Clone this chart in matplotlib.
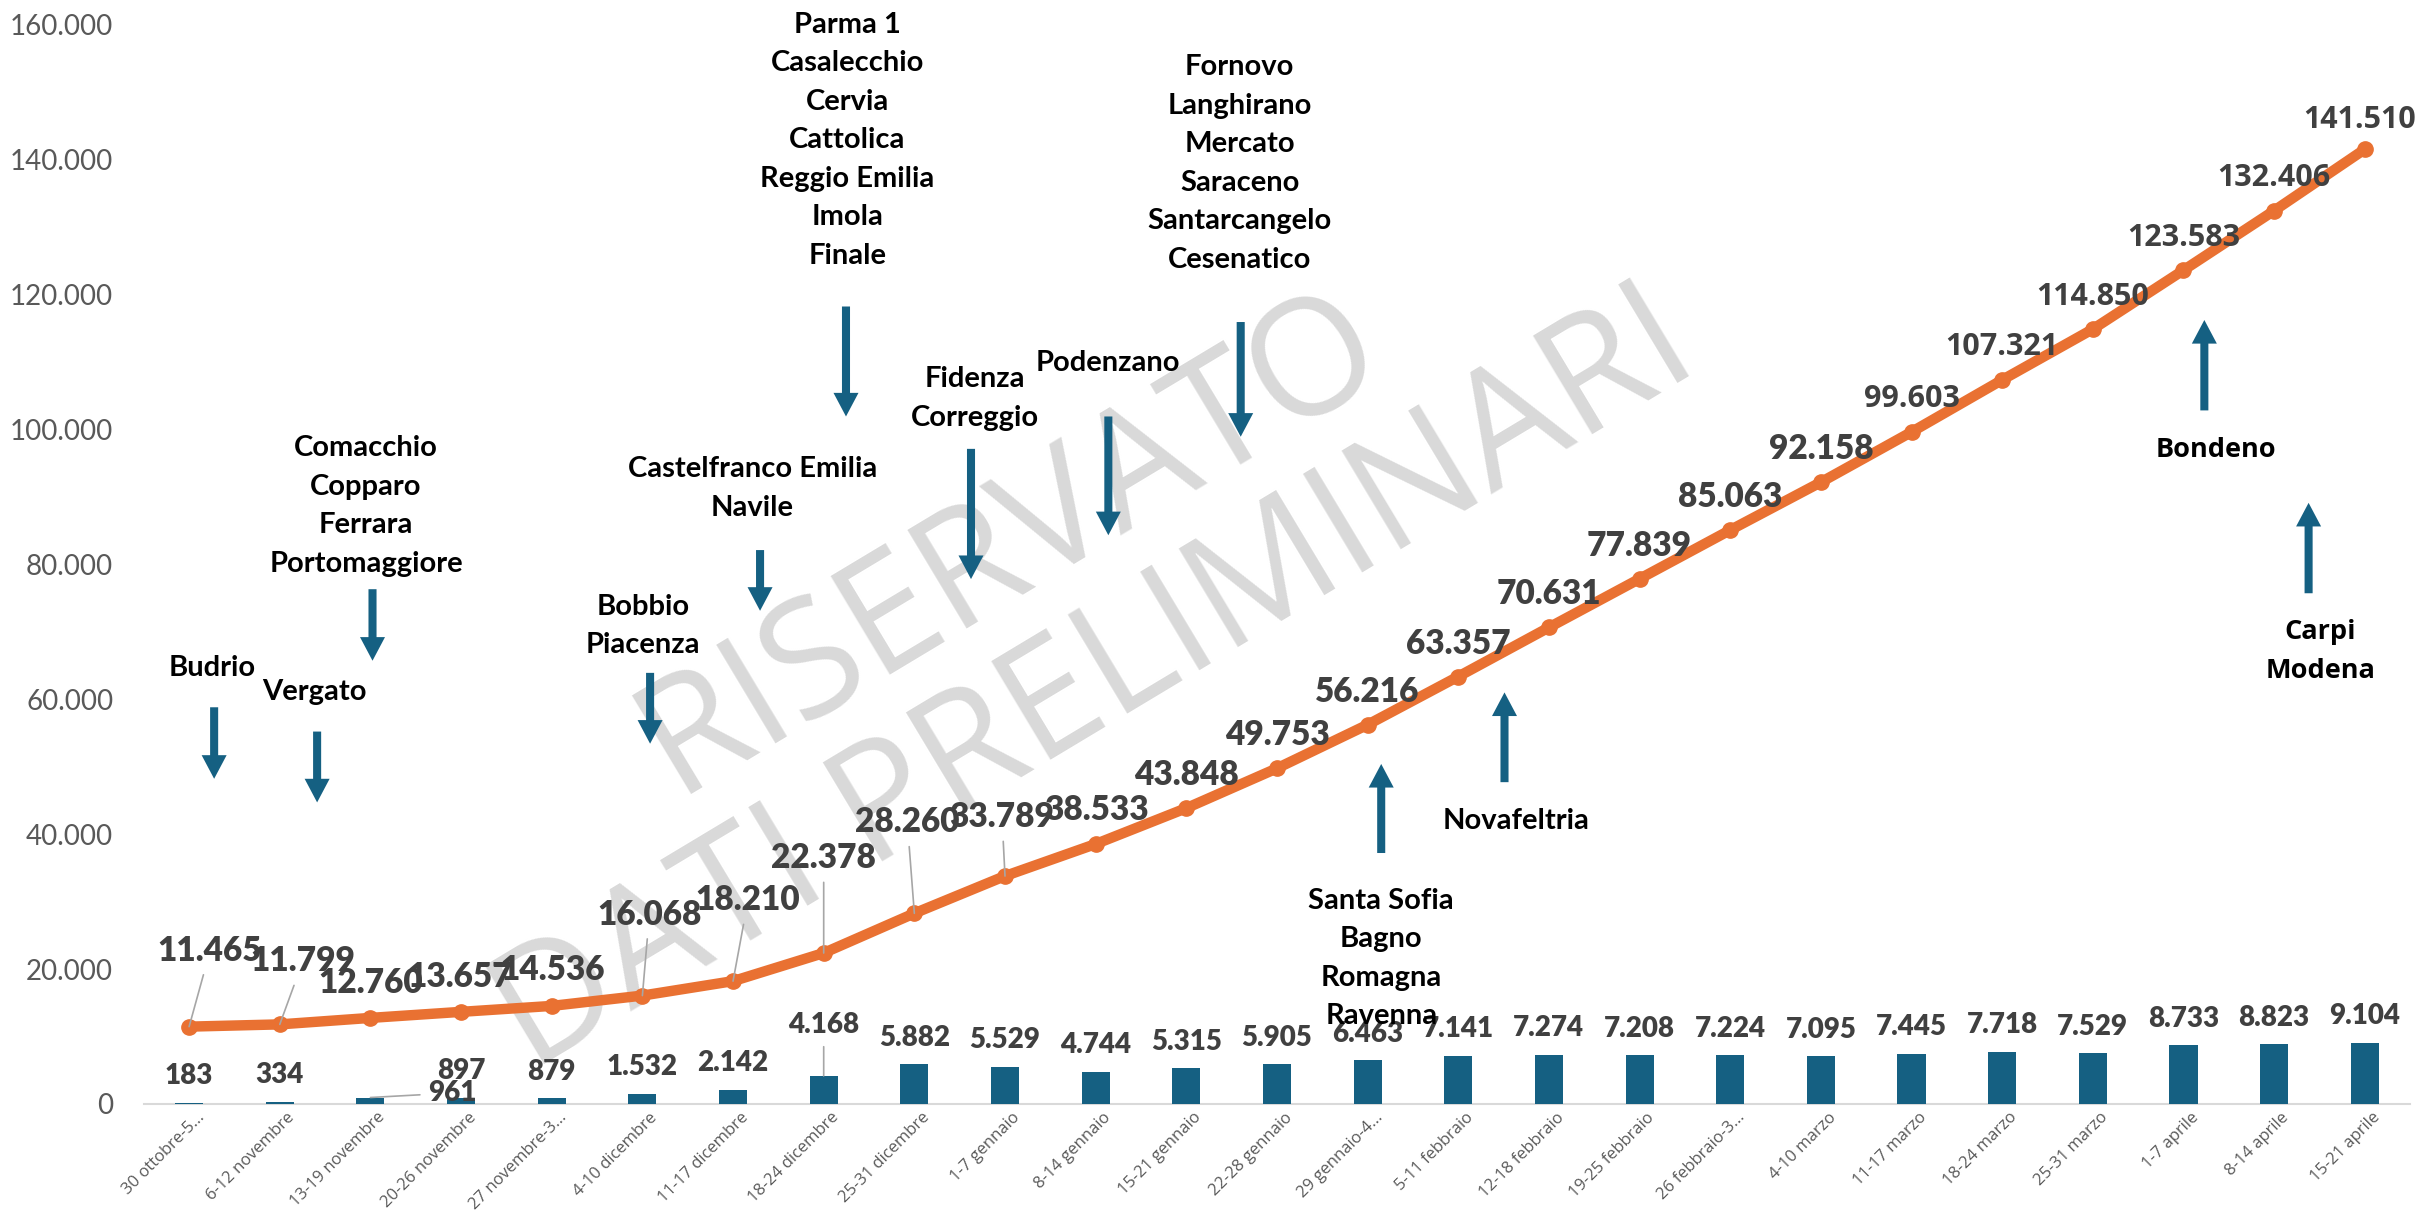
import matplotlib
matplotlib.use("Agg")
import matplotlib.pyplot as plt
from matplotlib.patches import FancyArrowPatch, ArrowStyle
from matplotlib.transforms import ScaledTranslation

# ---------------- data ----------------
categories = ["30 ottobre-5...", "6-12 novembre", "13-19 novembre", "20-26 novembre",
              "27 novembre-3...", "4-10 dicembre", "11-17 dicembre", "18-24 dicembre",
              "25-31 dicembre", "1-7 gennaio", "8-14 gennaio", "15-21 gennaio",
              "22-28 gennaio", "29 gennaio-4...", "5-11 febbraio", "12-18 febbraio",
              "19-25 febbraio", "26 febbraio-3...", "4-10 marzo", "11-17 marzo",
              "18-24 marzo", "25-31 marzo", "1-7 aprile", "8-14 aprile", "15-21 aprile"]
weekly = [183, 334, 961, 897, 879, 1532, 2142, 4168, 5882, 5529, 4744, 5315, 5905,
          6463, 7141, 7274, 7208, 7224, 7095, 7445, 7718, 7529, 8733, 8823, 9104]
cumulative = [11465, 11799, 12760, 13657, 14536, 16068, 18210, 22378, 28260, 33789,
              38533, 43848, 49753, 56216, 63357, 70631, 77839, 85063, 92158, 99603,
              107321, 114850, 123583, 132406, 141510]
yticks = [0, 20000, 40000, 60000, 80000, 100000, 120000, 140000, 160000]

# annotations: (lines, text_x, text_y, arrow_x, arrow_base, arrow_tip)
notes = [
    (["Budrio"], 0.254, 65000, 0.276, 58800, 48200),
    (["Vergato"], 1.379, 61500, 1.412, 55200, 44700),
    (["Comacchio", "Copparo", "Ferrara", "Portomaggiore"], 1.952, 89000, 2.023, 76300, 65700),
    (["Bobbio", "Piacenza"], 5.007, 71250, 5.085, 63900, 53400),
    (["Castelfranco Emilia", "Navile"], 6.216, 91600, 6.298, 82100, 73100),
    (["Parma 1", "Casalecchio", "Cervia", "Cattolica", "Reggio Emilia", "Imola", "Finale"],
     7.263, 143200, 7.246, 118200, 101900),
    (["Fidenza", "Correggio"], 8.669, 104900, 8.625, 97100, 77800),
    (["Podenzano"], 10.13, 110200, 10.14, 101900, 84300),
    (["Fornovo", "Langhirano", "Mercato", "Saraceno", "Santarcangelo", "Cesenatico"],
     11.59, 139800, 11.60, 115900, 98900),
    (["Santa Sofia", "Bagno", "Romagna", "Ravenna"], 13.15, 21900, 13.15, 37200, 50400),
    (["Novafeltria"], 14.64, 42300, 14.51, 47700, 61000),
    (["Bondeno"], 22.36, 97400, 22.23, 102800, 116200),
    (["Carpi", "Modena"], 23.51, 67500, 23.38, 75700, 89100),
]
wide_font_notes = {"Bondeno", "Carpi"}

# label offsets (pixels, x right / y up) for line labels; leader flag
line_off = {0: (21, 79, True), 1: (23, 66, True), 2: (0, 38, False), 3: (-1, 38, False),
            4: (1, 39, False), 5: (7, 84, True), 6: (15, 84, True), 7: (0, 98, True),
            8: (-7, 94, True), 9: (-3, 62, True), 10: (1, 37, False), 24: (-5, 33, False)}
bar_off = {2: (82, 7, True), 7: (0, 53, True)}

# ---------------- style ----------------
ORANGE = "#E97132"
BLUE = "#156082"
LABEL = "#404040"
AXIS = "#595959"
LEADER = "#A6A6A6"

def fmt(v):
    return f"{v:,}".replace(",", ".")

fig = plt.figure(figsize=(24.33, 12.18), dpi=100)
ax = fig.add_axes([0.0591, 0.0936, 0.9315, 0.8863])
ax.set_facecolor("none")

x = list(range(len(categories)))
ax.bar(x, weekly, width=0.31, color=BLUE, zorder=2)
ax.plot(x, cumulative, color=ORANGE, lw=7.5, marker="o", ms=11,
        solid_capstyle="round", zorder=3)

ax.set_xlim(-0.5, len(categories) - 0.5)
ax.set_ylim(0, 160000)
ax.set_yticks(yticks)
ax.set_yticklabels([fmt(v) for v in yticks], fontsize=20, color=AXIS, family="Lato")
ax.tick_params(axis="y", length=0, pad=22)
ax.set_xticks(x)
ax.set_xticklabels(categories, rotation=45, ha="right", rotation_mode="anchor",
                   fontsize=12, color=AXIS, family="Open Sans")
ax.tick_params(axis="x", length=0, pad=4)
shift = ScaledTranslation(7 / 100, 0, fig.dpi_scale_trans)
for lab in ax.get_xticklabels():
    lab.set_transform(lab.get_transform() + shift)
for s in ["top", "right", "left"]:
    ax.spines[s].set_visible(False)
ax.spines["bottom"].set_color("#D9D9D9")
ax.spines["bottom"].set_linewidth(1.5)
ax.spines["bottom"].set_zorder(1)

# watermark
ax.text(0.4330, 0.4960, "RISERVATO\nDATI PRELIMINARI", transform=fig.transFigure,
        rotation=31, rotation_mode="anchor", ha="center", va="center",
        multialignment="center", fontsize=116, color="#D9D9D9", family="Open Sans",
        linespacing=1.02, zorder=0.5, clip_on=False)

# line labels
for i, v in enumerate(cumulative):
    dx, dy, lead = line_off.get(i, (0, 36, False))
    if i >= 19:
        fam, size, wt = "Open Sans", 22, "bold"
    else:
        fam, size, wt = "Lato", 24, "heavy"
    kw = {}
    if lead:
        kw["arrowprops"] = dict(arrowstyle="-", color=LEADER, lw=1.2, shrinkA=4, shrinkB=0)
    ax.annotate(fmt(v), xy=(i, v), xytext=(dx, dy), textcoords="offset pixels",
                ha="center", va="center_baseline", fontsize=size, fontweight=wt,
                color=LABEL, family=fam, zorder=5, **kw)

# bar labels
for i, v in enumerate(weekly):
    dx, dy, lead = bar_off.get(i, (0, 29, False))
    kw = {}
    if lead:
        kw["arrowprops"] = dict(arrowstyle="-", color=LEADER, lw=1.2, shrinkA=4, shrinkB=0)
    ax.annotate(fmt(v), xy=(i, v), xytext=(dx, dy), textcoords="offset pixels",
                ha="center", va="center_baseline", fontsize=20, fontweight="heavy",
                color=LABEL, family="Lato", zorder=5, **kw)

# annotations with arrows
LINE_SP = 38.5
for lines, tx, ty, axx, ab, at in notes:
    wide = lines[0] in wide_font_notes
    fam = "Open Sans" if wide else "Lato"
    size = 19.5 if wide else 21
    n = len(lines)
    for k, line in enumerate(lines):
        off = -(k - (n - 1) / 2) * LINE_SP
        ax.annotate(line, xy=(tx, ty), xytext=(0, off), textcoords="offset pixels",
                    ha="center", va="center_baseline", fontsize=size, fontweight="bold",
                    color="black", family=fam, zorder=6)
    arr = FancyArrowPatch((axx, ab), (axx, at),
                          arrowstyle=ArrowStyle.Simple(head_length=17, head_width=18,
                                                       tail_width=5.8),
                          mutation_scale=1, color=BLUE, lw=0, shrinkA=0, shrinkB=0,
                          zorder=6)
    ax.add_patch(arr)

fig.savefig("out.png", dpi=100)
